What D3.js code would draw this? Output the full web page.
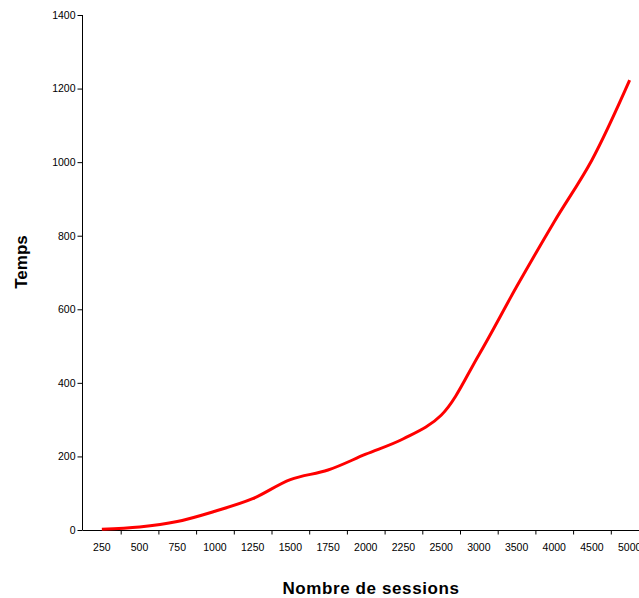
<!DOCTYPE html>
<html>
<head>
<meta charset="utf-8">
<script src="https://cdn.jsdelivr.net/npm/d3@7/dist/d3.min.js"></script>
<style>
  body { margin: 0; background: #fff; }
  svg { display: block; font-family: "Liberation Sans", Arial, sans-serif; }
</style>
</head>
<body>
<svg id="chart"></svg>
<script>
// categories on the x axis (Excel style category axis)
var sessions = ["250", "500", "750", "1000", "1250", "1500", "1750", "2000", "2250", "2500",
                "3000", "3500", "4000", "4500", "5000"];
// time values
var temps = [2, 8, 23, 51, 85, 137, 163, 206, 248, 312, 476, 661, 838, 1006, 1223];
var yTicks = [0, 200, 400, 600, 800, 1000, 1200, 1400];

var width = 639, height = 598;
var plotLeft = 83, plotBottom = 530, plotTop = 15;
var band = 37.7;

var svg = d3.select("#chart")
  .attr("width", width)
  .attr("height", height);

var x = d3.scaleBand()
  .domain(sessions)
  .range([plotLeft, plotLeft + band * sessions.length])
  .paddingInner(0).paddingOuter(0);

var y = d3.scaleLinear()
  .domain([0, 1400])
  .range([plotBottom, plotTop]);

// y axis
var yAxis = svg.append("g")
  .attr("transform", "translate(" + (plotLeft - 0.5) + ",0)")
  .call(d3.axisLeft(y).tickValues(yTicks).tickFormat(d3.format("d")).tickSize(5).tickPadding(2));
yAxis.select(".domain").attr("d", "M0," + plotTop + "V" + plotBottom);
yAxis.selectAll("text").style("font-size", "10.5px").attr("fill", "#000");

// x axis: labels in the middle of each band, ticks on band edges
var xAxis = svg.append("g")
  .attr("transform", "translate(0," + (plotBottom + 0.5) + ")")
  .call(d3.axisBottom(x).tickSize(0).tickPadding(13));
xAxis.select(".domain").attr("d", "M" + (plotLeft - 0.5) + ",0H" + width);
xAxis.selectAll("text").style("font-size", "10.5px").attr("fill", "#000");

xAxis.selectAll(".edge")
  .data(sessions)
  .enter()
  .append("line")
  .attr("class", "edge")
  .attr("x1", d => x(d) + x.bandwidth() + 0.5)
  .attr("x2", d => x(d) + x.bandwidth() + 0.5)
  .attr("y1", 0)
  .attr("y2", 4)
  .attr("stroke", "#000");

// the curve
var line = d3.line()
  .x((d, i) => x(sessions[i]) + x.bandwidth() / 2)
  .y(d => y(d))
  .curve(d3.curveCatmullRom.alpha(0.5));

svg.append("path")
  .datum(temps)
  .attr("d", line)
  .attr("fill", "none")
  .attr("stroke", "#ff0000")
  .attr("stroke-width", 3)
  .attr("stroke-linejoin", "round");

// axis titles
svg.append("text")
  .attr("transform", "translate(27,262) rotate(-90)")
  .attr("text-anchor", "middle")
  .style("font-size", "17px")
  .style("font-weight", "bold")
  .text("Temps");

svg.append("text")
  .attr("x", 371)
  .attr("y", 594)
  .attr("text-anchor", "middle")
  .style("font-size", "17px")
  .style("font-weight", "bold")
  .style("letter-spacing", "0.6px")
  .text("Nombre de sessions");
</script>
</body>
</html>
